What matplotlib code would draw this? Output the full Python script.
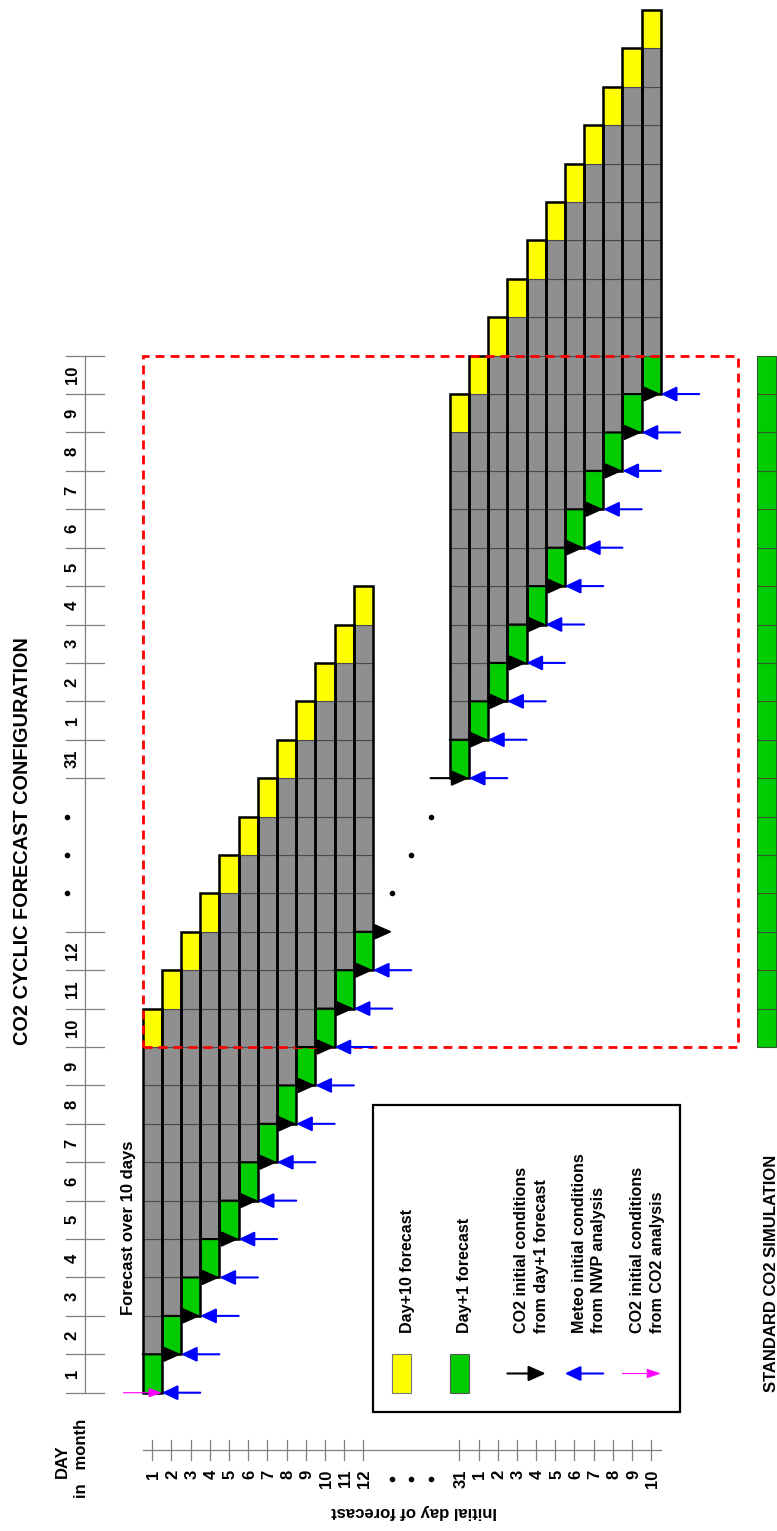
import matplotlib
matplotlib.use('Agg')
import matplotlib.pyplot as plt
from matplotlib.patches import Rectangle

# ---------------- data ----------------
row_labels = ['1', '2', '3', '4', '5', '6', '7', '8', '9', '10', '11', '12',
              '31', '1', '2', '3', '4', '5', '6', '7', '8', '9', '10']
row_start_slot = [0, 1, 2, 3, 4, 5, 6, 7, 8, 9, 10, 11,
                  16, 17, 18, 19, 20, 21, 22, 23, 24, 25, 26]
day_labels = ['1', '2', '3', '4', '5', '6', '7', '8', '9', '10', '11', '12',
              '31', '1', '2', '3', '4', '5', '6', '7', '8', '9', '10']
day_slot = [0, 1, 2, 3, 4, 5, 6, 7, 8, 9, 10, 11,
            16, 17, 18, 19, 20, 21, 22, 23, 24, 25, 26]
gap_dots = [13, 14, 15]
forecast_days = 10
co2_ic_from_forecast = [1, 2, 3, 4, 5, 6, 7, 8, 9, 10, 11, 12,
                        16, 17, 18, 19, 20, 21, 22, 23, 24, 25, 26]
co2_ic_from_analysis = [0]
meteo_ic = [0, 1, 2, 3, 4, 5, 6, 7, 8, 9, 10, 11,
            16, 17, 18, 19, 20, 21, 22, 23, 24, 25, 26]
standard_sim_slots = [9, 10, 11, 12, 13, 14, 15, 16, 17, 18, 19, 20, 21, 22, 23, 24, 25, 26]

legend_labels = [['Day+10 forecast'], ['Day+1 forecast'],
                 ['CO2 initial conditions', 'from day+1 forecast'],
                 ['Meteo initial conditions', 'from NWP analysis'],
                 ['CO2 initial conditions', 'from CO2 analysis']]

# ---------------- style ----------------
YELLOW = '#ffff00'
GREEN = '#00cc00'
GRAY = '#8f8f8f'
BLUE = '#0000ff'
MAGENTA = '#ff00ff'
AXC = '#808080'

plt.rcParams['font.family'] = ['Liberation Sans', 'DejaVu Sans']
plt.rcParams['font.weight'] = 'bold'

W, H = 777, 1531
X0, CW = 142.7, 19.19      # pixel of column boundary 0, column width
Y0, SH = 1392.7, 38.41     # pixel (from top) of slot boundary 0, slot height

fig = plt.figure(figsize=(W / 100, H / 100), dpi=100)
ax = fig.add_axes([0, 0, 1, 1])
ax.set_xlim(-X0 / CW, (W - X0) / CW)
ax.set_ylim(-(H - Y0) / SH, Y0 / SH)
ax.axis('off')


def arrow(x0, x1, y, color, lw, hl, hw):
    ax.annotate('', xy=(x1, y), xytext=(x0, y),
                arrowprops=dict(arrowstyle=f'-|>,head_length={hl},head_width={hw}',
                                color=color, lw=lw, shrinkA=0, shrinkB=0,
                                mutation_scale=10),
                zorder=6)


# forecast columns
for r in row_start_slot:
    for k in range(forecast_days):
        col = GREEN if k == 0 else (YELLOW if k == forecast_days - 1 else GRAY)
        ax.add_patch(Rectangle((r, r + k), 1, 1, facecolor=col, edgecolor='#4a4a4a',
                               lw=0.8, zorder=2))
    ax.add_patch(Rectangle((r, r), 1, forecast_days, fill=False, edgecolor='black',
                           lw=1.8, zorder=3))

# standard simulation bar
for s in standard_sim_slots:
    ax.add_patch(Rectangle((32, s), 1, 1, facecolor=GREEN, edgecolor='#2e5a2e',
                           lw=0.8, zorder=2))

# red dashed window
ax.add_patch(Rectangle((0, standard_sim_slots[0]), 31, len(standard_sim_slots),
                       fill=False, edgecolor='red', lw=2.0, ls=(0, (3.2, 2.2)), zorder=4))

# arrows
for r in co2_ic_from_forecast:
    arrow(r - 1, r + 1, r, 'black', 1.5, 1.05, 0.47)
for r in meteo_ic:
    arrow(r + 3, r + 1, r, BLUE, 1.5, 0.95, 0.45)
for r in co2_ic_from_analysis:
    arrow(r - 1, r + 1, r, MAGENTA, 0.8, 0.8, 0.29)

# gap dots
ax.plot(gap_dots, gap_dots, 'o', color='black', ms=3, zorder=5)

# left (day) axis
ax.plot([-3, -3], [0, day_slot[-1] + 1], color=AXC, lw=0.9)
ticks = sorted(set(day_slot) | set(s + 1 for s in day_slot))
for s in ticks:
    ax.plot([-4, -2], [s, s], color=AXC, lw=0.9)
for lab, s in zip(day_labels, day_slot):
    ax.text(-3.44, s + 0.5, lab, rotation=90, rotation_mode='anchor', ha='center',
            va='baseline', fontsize=12, fontweight='bold')
ax.plot([-3.96] * len(gap_dots), gap_dots, 'o', color='black', ms=3)

# bottom (row) axis
ax.plot([0, row_start_slot[-1] + 1], [-1.5, -1.5], color=AXC, lw=0.9)
for r in row_start_slot:
    ax.plot([r + 0.5, r + 0.5], [-1.24, -1.76], color=AXC, lw=0.9)
for lab, r in zip(row_labels, row_start_slot):
    ax.text(r + 0.5 + 0.31, -2.0, lab, rotation=90, rotation_mode='anchor', ha='right',
            va='baseline', fontsize=12, fontweight='bold')
ax.plot(gap_dots, [-2.25] * len(gap_dots), 'o', color='black', ms=3)

# titles and labels
ax.text(-5.96, 9.05, 'CO2 CYCLIC FORECAST CONFIGURATION', rotation=90,
        rotation_mode='anchor', ha='left', va='baseline', fontsize=14.3, fontweight='bold')
ax.text(-0.48, 2.02, 'Forecast over 10 days', rotation=90, rotation_mode='anchor',
        ha='left', va='baseline', fontsize=12, fontweight='bold')
ax.text(32.98, 0.02, 'STANDARD CO2 SIMULATION', rotation=90, rotation_mode='anchor',
        ha='left', va='baseline', fontsize=12, fontweight='bold')
ax.text(18.45, -2.97, 'Initial day of forecast', rotation=180, rotation_mode='anchor',
        ha='left', va='baseline', fontsize=12, fontweight='bold')
ax.text(-3.94, -2.23, 'DAY', rotation=90, rotation_mode='anchor',
        ha='left', va='baseline', fontsize=12, fontweight='bold')
ax.text(-2.96, -2.74, 'in   month', rotation=90, rotation_mode='anchor',
        ha='left', va='baseline', fontsize=12, fontweight='bold')

# legend
ax.add_patch(Rectangle((12, -0.5), 16, 8, fill=False, edgecolor='black', lw=1.6, zorder=3))
ax.add_patch(Rectangle((13, 0), 1, 1, facecolor=YELLOW, edgecolor='#777777', lw=0.8))
ax.add_patch(Rectangle((16, 0), 1, 1, facecolor=GREEN, edgecolor='#555555', lw=0.8))
arrow(19, 21, 0.5, 'black', 1.5, 1.05, 0.47)
arrow(24, 22, 0.5, BLUE, 1.5, 0.95, 0.45)
arrow(25, 27, 0.5, MAGENTA, 0.8, 0.85, 0.29)
legend_baselines = [[14.05], [17.02], [20.0, 21.0], [23.0, 24.0], [26.0, 27.05]]
for lines, xs in zip(legend_labels, legend_baselines):
    for txt, x in zip(lines, xs):
        ax.text(x, 1.55, txt, rotation=90, rotation_mode='anchor', ha='left',
                va='baseline', fontsize=11.6, fontweight='bold')

fig.savefig('out.png', dpi=100)
